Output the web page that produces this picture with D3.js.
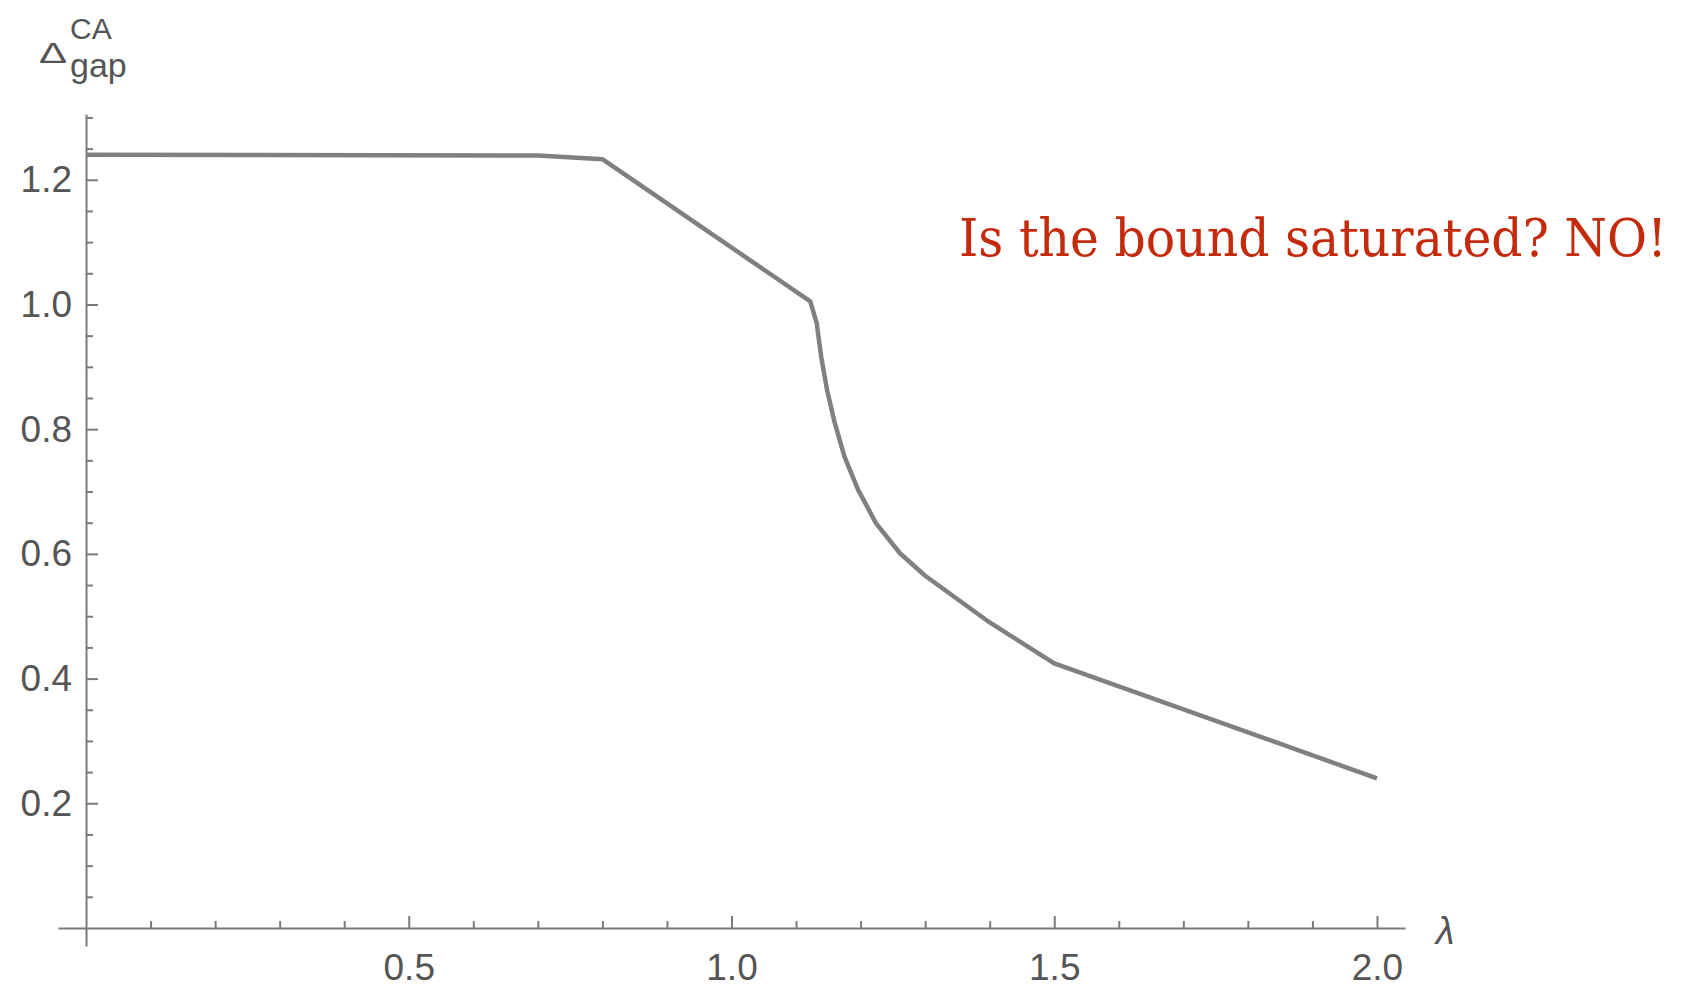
<html>
<head>
<title>Gap vs lambda</title>
<meta charset="utf-8">
<script src="https://cdnjs.cloudflare.com/ajax/libs/d3/7.8.5/d3.min.js"></script>
<style>
  body { margin: 0; background: #fff; }
  .tick text { font-family: "Liberation Sans", Arial, sans-serif; fill: #555; }
</style>
</head>
<body>
<div id="chart"></div>
<script type="text/javascript">
// values
var lambdaVals = [0, 0.7, 0.8, 1.122, 1.132, 1.139, 1.148, 1.160, 1.175, 1.196, 1.224, 1.261, 1.3, 1.4, 1.5, 2.0];
var gapVals    = [1.240, 1.239, 1.233, 1.005, 0.970, 0.916, 0.863, 0.810, 0.756, 0.703, 0.649, 0.601, 0.565, 0.490, 0.4245, 0.240];

var xMajor = [0.5, 1.0, 1.5, 2.0];
var xMinor = [0.1, 0.2, 0.3, 0.4, 0.6, 0.7, 0.8, 0.9, 1.1, 1.2, 1.3, 1.4, 1.6, 1.7, 1.8, 1.9];
var yMajor = [0.2, 0.4, 0.6, 0.8, 1.0, 1.2];
var yMinor = [0.05, 0.1, 0.15, 0.25, 0.3, 0.35, 0.45, 0.5, 0.55, 0.65, 0.7, 0.75,
              0.85, 0.9, 0.95, 1.05, 1.1, 1.15, 1.25, 1.3];

var note = "Is the bound saturated? NO!";

var w = 1686, h = 987;
var axisColor = "#7a7a7a";

// scales cover the full drawn axis lines
var x = d3.scaleLinear().domain([-0.0434, 2.0434]).range([58, 1405]);
var y = d3.scaleLinear().domain([-0.0289, 1.3055]).range([946, 114]);

var svg = d3.select("#chart").append("svg")
    .attr("width", w)
    .attr("height", h);

var fmt = d3.format(".1f");

// x axis
svg.append("g")
    .attr("transform", "translate(0," + y(0) + ")")
    .call(d3.axisBottom(x).tickValues(xMajor).tickFormat(fmt)
        .tickSizeInner(-12).tickSizeOuter(0).tickPadding(26));
svg.append("g")
    .attr("transform", "translate(0," + y(0) + ")")
    .call(d3.axisBottom(x).tickValues(xMinor).tickFormat("")
        .tickSizeInner(-7).tickSizeOuter(0))
    .call(function(g) { g.select(".domain").remove(); });

// y axis
svg.append("g")
    .attr("transform", "translate(" + x(0) + ",0)")
    .call(d3.axisLeft(y).tickValues(yMajor).tickFormat(fmt)
        .tickSizeInner(-12).tickSizeOuter(0).tickPadding(14));
svg.append("g")
    .attr("transform", "translate(" + x(0) + ",0)")
    .call(d3.axisLeft(y).tickValues(yMinor).tickFormat("")
        .tickSizeInner(-7).tickSizeOuter(0))
    .call(function(g) { g.select(".domain").remove(); });

svg.selectAll(".domain").attr("stroke", axisColor).attr("stroke-width", 2);
svg.selectAll(".tick line").attr("stroke", axisColor).attr("stroke-width", 2);
svg.selectAll(".tick text").attr("font-size", 37).attr("fill", "#555");

// curve
var pts = lambdaVals.map(function(l, i) { return [l, gapVals[i]]; });
var line = d3.line()
    .x(function(d) { return x(d[0]); })
    .y(function(d) { return y(d[1]); });

svg.append("path")
    .datum(pts)
    .attr("fill", "none")
    .attr("stroke", "#808080")
    .attr("stroke-width", 4.5)
    .attr("stroke-linejoin", "round")
    .attr("d", line);

// axis labels
svg.append("text")
    .attr("x", x(2.043) + 31)
    .attr("y", y(0) + 16)
    .attr("font-family", "Liberation Sans, Arial, sans-serif")
    .attr("font-style", "italic")
    .attr("font-size", 38)
    .attr("fill", "#555")
    .text("λ");

var labFont = "Liberation Sans, Arial, sans-serif";
// wide Δ
svg.append("text")
    .attr("transform", "translate(39,63) scale(1.4,1)")
    .attr("font-family", labFont)
    .attr("font-size", 30)
    .attr("fill", "#555")
    .text("Δ");
svg.append("text")
    .attr("x", 70).attr("y", 39)
    .attr("font-family", labFont)
    .attr("font-size", 30)
    .attr("fill", "#555")
    .text("CA");
svg.append("text")
    .attr("x", 70).attr("y", 77)
    .attr("font-family", labFont)
    .attr("font-size", 34)
    .attr("fill", "#555")
    .text("gap");

// red note, squeezed horizontally to the reference width
var noteText = svg.append("text")
    .attr("font-family", "DejaVu Serif, serif")
    .attr("font-size", 52)
    .attr("fill", "#c42b0c")
    .text(note);
var natural = noteText.node().getComputedTextLength();
noteText.attr("transform", "translate(959,256) scale(" + (708 / natural) + ",1)");
</script>
</body>
</html>
